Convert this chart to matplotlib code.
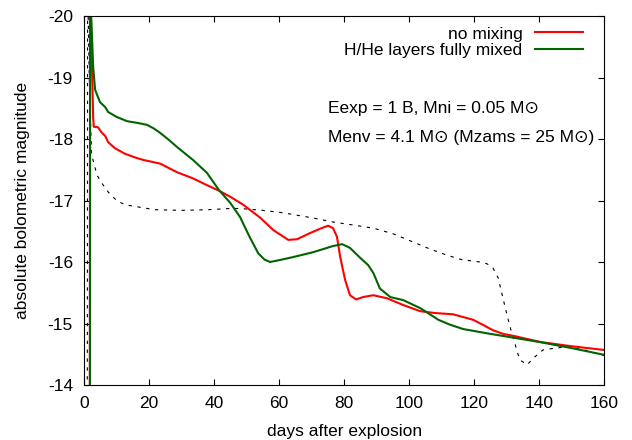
import matplotlib
matplotlib.use("Agg")
import matplotlib.pyplot as plt

# light curves (days, absolute bolometric magnitude)
t_nomix = [1.8, 1.85, 2.0, 2.4, 2.8, 3.0, 4.3, 5.5, 6.5, 7.4, 9.5, 12.6, 15.7, 18.2, 23.4,
           28.6, 33.5, 37, 41.5, 45, 49, 54.2, 58.2, 62.8, 65.5, 69.5, 73, 75.1, 76.6, 77.8,
           78.8, 80.3, 81.8, 83.7, 85.8, 89, 93.2, 98.2, 103.4, 108, 113.5, 119.7, 123,
           125.8, 129, 132, 140.3, 150, 160]
m_nomix = [-13.8, -20.5, -20.0, -19.3, -18.35, -18.2, -18.19, -18.1, -18.05, -17.95, -17.85,
           -17.76, -17.7, -17.66, -17.6, -17.46, -17.36, -17.27, -17.16, -17.06, -16.93,
           -16.72, -16.52, -16.36, -16.37, -16.47, -16.55, -16.59, -16.55, -16.41, -16.08,
           -15.71, -15.46, -15.39, -15.43, -15.46, -15.41, -15.3, -15.2, -15.17, -15.15,
           -15.06, -14.97, -14.89, -14.83, -14.8, -14.7, -14.63, -14.57]

t_mixed = [1.8, 1.85, 2.2, 2.8, 3.4, 4.9, 6.5, 7.4, 10, 13.2, 16.6, 19.4, 21.5, 23.4, 26,
           28.6, 33.5, 37.8, 41.5, 45, 48, 51, 53.6, 55.5, 57.2, 60, 64.3, 70.5, 76.6, 79.4,
           81.8, 84.9, 87.4, 89, 91, 94.2, 98.2, 103.4, 105.5, 109, 112.6, 116.6, 124, 132,
           140, 150, 160]
m_mixed = [-13.8, -20.5, -20.0, -19.17, -18.8, -18.6, -18.52, -18.44, -18.36, -18.29, -18.26,
           -18.23, -18.17, -18.1, -17.99, -17.87, -17.66, -17.45, -17.17, -16.96, -16.73,
           -16.4, -16.14, -16.04, -16.0, -16.03, -16.08, -16.16, -16.26, -16.29, -16.23,
           -16.07, -15.95, -15.82, -15.57, -15.43, -15.38, -15.25, -15.18, -15.06, -14.98,
           -14.91, -14.84, -14.77, -14.7, -14.6, -14.49]

t_ref = [1.0, 1.1, 1.6, 2.3, 2.8, 4.0, 5.5, 7.4, 10, 12.6, 15, 21.8, 30, 37.8, 45, 48, 55,
         61.2, 70, 76.6, 83, 89, 95, 101, 106, 111.7, 116, 121.8, 124, 125.8, 127.4, 129,
         131, 134, 136.3, 138.5, 141.2, 145, 148.6, 154, 160]
m_ref = [-13.8, -20.5, -19.0, -17.75, -17.65, -17.41, -17.28, -17.14, -17.0, -16.93, -16.91,
         -16.85, -16.84, -16.85, -16.87, -16.87, -16.84, -16.8, -16.72, -16.65, -16.6, -16.55,
         -16.46, -16.33, -16.22, -16.11, -16.04, -16.0, -15.97, -15.9, -15.74, -15.38, -14.95,
         -14.41, -14.33, -14.45, -14.57, -14.6, -14.62, -14.57, -14.48]

x_ticks = [0, 20, 40, 60, 80, 100, 120, 140, 160]
y_ticks = [-20, -19, -18, -17, -16, -15, -14]

plt.rcParams['font.family'] = ['Liberation Sans', 'DejaVu Sans']
plt.rcParams['font.size'] = 12.5
plt.rcParams['axes.unicode_minus'] = False

fig = plt.figure(figsize=(6.32, 4.40), dpi=100)
ax = fig.add_axes([0.133, 0.125, 0.823, 0.8386])

ax.plot(t_ref, m_ref, color='black', lw=0.8, dashes=(3, 5))
ax.plot(t_nomix, m_nomix, color='#ff0000', lw=1.5, label='no mixing')
ax.plot(t_mixed, m_mixed, color='#006400', lw=1.5, label='H/He layers fully mixed')

ax.set_xlim(0, 160)
ax.set_ylim(-14, -20)
ax.set_xticks(x_ticks)
ax.set_yticks(y_ticks)
ax.tick_params(direction='in', length=4, top=True, right=True, labelsize=12.5)
ax.tick_params(axis='x', pad=8)
ax.tick_params(axis='y', pad=8)

ax.set_xlabel('days after explosion', labelpad=9)
ax.set_ylabel('absolute bolometric magnitude', labelpad=13)

ax.legend(loc='upper right', bbox_to_anchor=(0.96, 0.972), frameon=False,
          markerfirst=False, handlelength=2.8, handletextpad=0.7,
          labelspacing=0.1, borderpad=0, borderaxespad=0)

ax.text(75.1, -18.49, 'Eexp = 1 B, Mni = 0.05 M\u2299', va='center', ha='left')
ax.text(75.1, -18.02, 'Menv = 4.1 M\u2299 (Mzams = 25 M\u2299)', va='center', ha='left')

fig.savefig('out.png', dpi=100)
